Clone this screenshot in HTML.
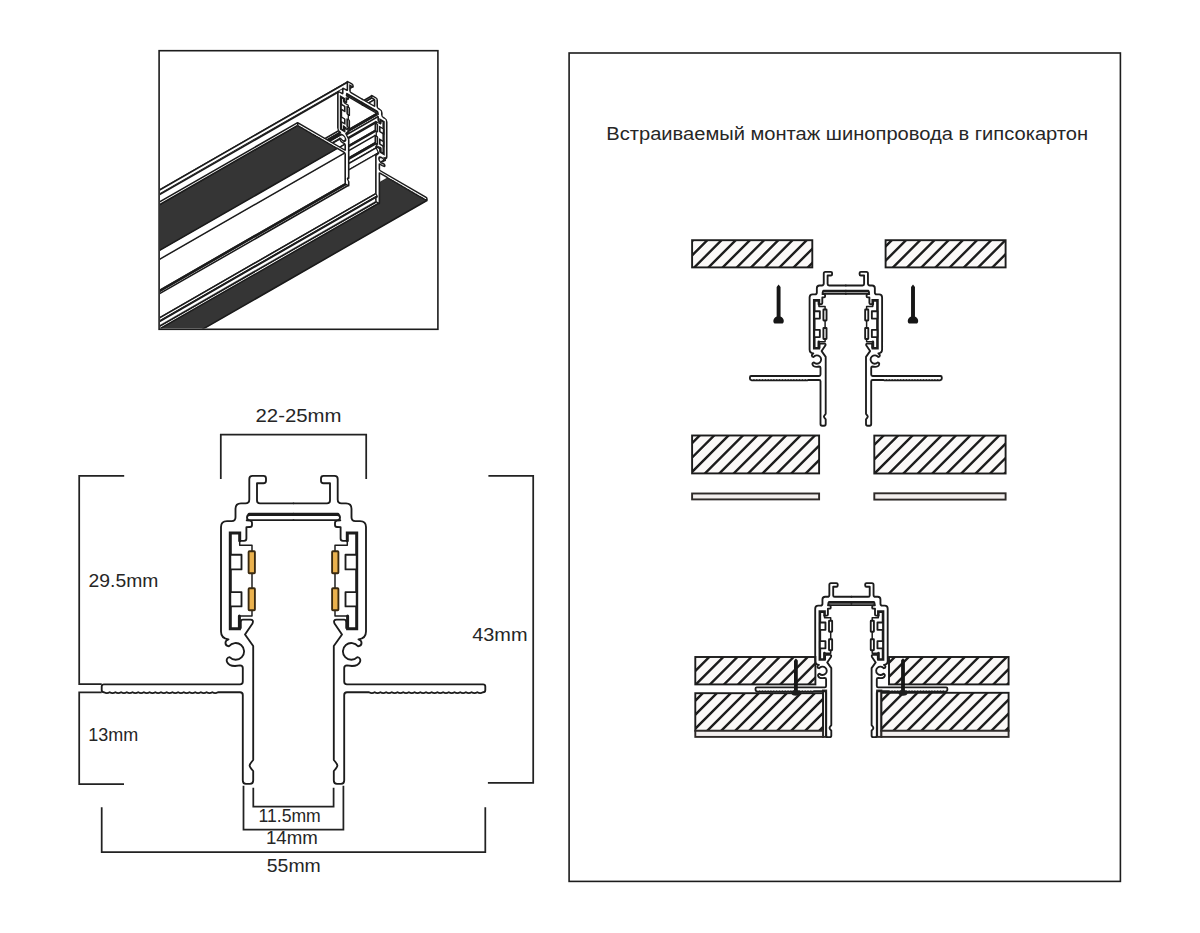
<!DOCTYPE html>
<html><head><meta charset="utf-8"><style>html,body{margin:0;padding:0;background:#fff;}svg{display:block}</style></head>
<body><svg width="1200" height="933" viewBox="0 0 1200 933">
<rect width="1200" height="933" fill="#fff"/>
<rect x="159.1" y="50.7" width="278.8" height="278.6" fill="none" stroke="#1c1c1c" stroke-width="1.6"/>
<rect x="569.1" y="53" width="551.3" height="828.4" fill="none" stroke="#1c1c1c" stroke-width="1.6"/>
<g fill="none" stroke="#1c1c1c" stroke-linecap="round" stroke-linejoin="round"><path d="M 293.5 503.3 L 260 503.3 Q 257 503.3 257 500.5 L 257 483.2 L 263.5 483.2 Q 266 483.2 266 480.7 L 266 478.4 Q 266 475.9 263.5 475.9 L 252.5 475.9 Q 249.3 475.9 249.3 479.1 L 249.3 499.5 Q 249.3 503.3 245.5 503.3 L 241 503.3 Q 235.5 503.3 235.5 508.8 L 235.5 517.3 Q 235.5 521.1 231.7 521.1 L 227 521.1 Q 221 521.1 221 527.1 L 221 631.5 C 221 636.5 223.5 638.8 228.5 639.3 C 224.5 640.5 224.2 645.8 229 646.3 A 8.4 8.4 0 1 1 229.6 657.2 C 224.5 657.8 226 666 235 666 L 240 665.3 Q 242.8 665.3 242.8 668 L 242.8 681.5 Q 242.8 684.3 240 684.3 L 104 684.3 Q 101.7 684.3 101.7 686.6 L 101.7 689.9 Q 101.7 692.2 104 692.2 Q 106.85 694.00 109.70 692.20 Q 112.55 694.00 115.40 692.20 Q 118.25 694.00 121.10 692.20 Q 123.95 694.00 126.80 692.20 Q 129.65 694.00 132.50 692.20 Q 135.35 694.00 138.20 692.20 Q 141.05 694.00 143.90 692.20 Q 146.75 694.00 149.60 692.20 Q 152.45 694.00 155.30 692.20 Q 158.15 694.00 161.00 692.20 Q 163.85 694.00 166.70 692.20 Q 169.55 694.00 172.40 692.20 Q 175.25 694.00 178.10 692.20 Q 180.95 694.00 183.80 692.20 Q 186.65 694.00 189.50 692.20 Q 192.35 694.00 195.20 692.20 Q 198.05 694.00 200.90 692.20 Q 203.75 694.00 206.60 692.20 Q 209.45 694.00 212.30 692.20 Q 215.15 694.00 218.00 692.20 L 219.50 692.20 L 240 692.2 Q 242.8 692.2 242.8 695 L 242.8 780.5 Q 242.8 783.8 246 783.8 L 250 783.8 Q 253.2 783.8 253.2 780.5 L 253.2 771 Q 249.6 767 249.6 765.5 Q 249.6 764 253.2 760 L 253.2 646 L 245 634.5 L 252.5 623.5 Q 254 619.6 250.5 619.6 L 243 619.6 Q 240.8 619.6 240.8 622 L 240.8 628" stroke-width="1.85"/>
<path d="M 246.7 520.3 L 250 520.6 Q 252 521 252 523 L 252 525 Q 252 527 250 527 L 246.4 527.2 L 246.4 538.5 Q 246.4 540.8 244 540.8 L 239.7 540.8" stroke-width="1.85"/>
<path d="M 293.5 515 L 249.5 515 Q 247 515 247 517.5 Q 247 520.1 249.5 520.1 L 293.5 520.1" stroke-width="1.85"/>
<path d="M 293.5 514.3 L 249 514.3" stroke-width="3.0"/>
<path d="M 239.7 540.8 L 239.7 533 L 230.3 533 L 230.3 628.7 L 239.4 628.7 L 239.4 616" stroke-width="3.0" stroke-linejoin="miter"/>
<path d="M 239.4 616 L 252 616 L 252 610.2 M 252 588.2 L 252 573.2 M 252 551.2 L 252 545.3 L 239.7 545.3 L 239.7 540.8" stroke-width="1.4800000000000002"/>
<rect x="230.3" y="554.7" width="11.2" height="14.7" fill="#fff" stroke-width="1.85"/>
<rect x="230.3" y="592.1" width="11.2" height="14.3" fill="#fff" stroke-width="1.85"/>
<rect x="248.6" y="551.2" width="6.3" height="22" rx="0.8" fill="#ebb24e" stroke="#3a2a10" stroke-width="1.85"/>
<rect x="248.6" y="588.2" width="6.3" height="22" rx="0.8" fill="#ebb24e" stroke="#3a2a10" stroke-width="1.85"/><g transform="translate(587,0) scale(-1,1)"><path d="M 293.5 503.3 L 260 503.3 Q 257 503.3 257 500.5 L 257 483.2 L 263.5 483.2 Q 266 483.2 266 480.7 L 266 478.4 Q 266 475.9 263.5 475.9 L 252.5 475.9 Q 249.3 475.9 249.3 479.1 L 249.3 499.5 Q 249.3 503.3 245.5 503.3 L 241 503.3 Q 235.5 503.3 235.5 508.8 L 235.5 517.3 Q 235.5 521.1 231.7 521.1 L 227 521.1 Q 221 521.1 221 527.1 L 221 631.5 C 221 636.5 223.5 638.8 228.5 639.3 C 224.5 640.5 224.2 645.8 229 646.3 A 8.4 8.4 0 1 1 229.6 657.2 C 224.5 657.8 226 666 235 666 L 240 665.3 Q 242.8 665.3 242.8 668 L 242.8 681.5 Q 242.8 684.3 240 684.3 L 104 684.3 Q 101.7 684.3 101.7 686.6 L 101.7 689.9 Q 101.7 692.2 104 692.2 Q 106.85 694.00 109.70 692.20 Q 112.55 694.00 115.40 692.20 Q 118.25 694.00 121.10 692.20 Q 123.95 694.00 126.80 692.20 Q 129.65 694.00 132.50 692.20 Q 135.35 694.00 138.20 692.20 Q 141.05 694.00 143.90 692.20 Q 146.75 694.00 149.60 692.20 Q 152.45 694.00 155.30 692.20 Q 158.15 694.00 161.00 692.20 Q 163.85 694.00 166.70 692.20 Q 169.55 694.00 172.40 692.20 Q 175.25 694.00 178.10 692.20 Q 180.95 694.00 183.80 692.20 Q 186.65 694.00 189.50 692.20 Q 192.35 694.00 195.20 692.20 Q 198.05 694.00 200.90 692.20 Q 203.75 694.00 206.60 692.20 Q 209.45 694.00 212.30 692.20 Q 215.15 694.00 218.00 692.20 L 219.50 692.20 L 240 692.2 Q 242.8 692.2 242.8 695 L 242.8 780.5 Q 242.8 783.8 246 783.8 L 250 783.8 Q 253.2 783.8 253.2 780.5 L 253.2 771 Q 249.6 767 249.6 765.5 Q 249.6 764 253.2 760 L 253.2 646 L 245 634.5 L 252.5 623.5 Q 254 619.6 250.5 619.6 L 243 619.6 Q 240.8 619.6 240.8 622 L 240.8 628" stroke-width="1.85"/>
<path d="M 246.7 520.3 L 250 520.6 Q 252 521 252 523 L 252 525 Q 252 527 250 527 L 246.4 527.2 L 246.4 538.5 Q 246.4 540.8 244 540.8 L 239.7 540.8" stroke-width="1.85"/>
<path d="M 293.5 515 L 249.5 515 Q 247 515 247 517.5 Q 247 520.1 249.5 520.1 L 293.5 520.1" stroke-width="1.85"/>
<path d="M 293.5 514.3 L 249 514.3" stroke-width="3.0"/>
<path d="M 239.7 540.8 L 239.7 533 L 230.3 533 L 230.3 628.7 L 239.4 628.7 L 239.4 616" stroke-width="3.0" stroke-linejoin="miter"/>
<path d="M 239.4 616 L 252 616 L 252 610.2 M 252 588.2 L 252 573.2 M 252 551.2 L 252 545.3 L 239.7 545.3 L 239.7 540.8" stroke-width="1.4800000000000002"/>
<rect x="230.3" y="554.7" width="11.2" height="14.7" fill="#fff" stroke-width="1.85"/>
<rect x="230.3" y="592.1" width="11.2" height="14.3" fill="#fff" stroke-width="1.85"/>
<rect x="248.6" y="551.2" width="6.3" height="22" rx="0.8" fill="#ebb24e" stroke="#3a2a10" stroke-width="1.85"/>
<rect x="248.6" y="588.2" width="6.3" height="22" rx="0.8" fill="#ebb24e" stroke="#3a2a10" stroke-width="1.85"/></g></g>
<g fill="none" stroke="#222" stroke-width="1.75"><path d="M 220.8 479 L 220.8 434.7 L 366.2 434.7 L 366.2 479"/><path d="M 124.2 475.8 L 79.2 475.8 L 79.2 684.2 L 101.7 684.2"/><path d="M 101.7 692.4 L 79.2 692.4 L 79.2 784.2 L 124 784.2"/><path d="M 488.4 475.9 L 533.2 475.9 L 533.2 782.9 L 487.9 782.9"/><path d="M 101.7 807.3 L 101.7 852 L 485.3 852 L 485.3 807.3"/><path d="M 243.5 785.8 L 243.5 829.6 L 343.4 829.6 L 343.4 785.8"/><path d="M 253.3 787.7 L 253.3 806.7 L 333.6 806.7 L 333.6 787.7"/></g>
<g font-family="Liberation Sans, sans-serif">
<text x="255.5" y="421.5" font-size="19" fill="#262626" text-anchor="start" textLength="86" lengthAdjust="spacingAndGlyphs">22-25mm</text>
<text x="88.6" y="586.8" font-size="19" fill="#262626" text-anchor="start" textLength="69.8" lengthAdjust="spacingAndGlyphs">29.5mm</text>
<text x="88.3" y="741.3" font-size="19" fill="#262626" text-anchor="start" textLength="50" lengthAdjust="spacingAndGlyphs">13mm</text>
<text x="472.2" y="640.7" font-size="19" fill="#262626" text-anchor="start" textLength="55.3" lengthAdjust="spacingAndGlyphs">43mm</text>
<text x="258.5" y="822.3" font-size="19" fill="#262626" text-anchor="start" textLength="62.3" lengthAdjust="spacingAndGlyphs">11.5mm</text>
<text x="266" y="844.4" font-size="19" fill="#262626" text-anchor="start" textLength="51.8" lengthAdjust="spacingAndGlyphs">14mm</text>
<text x="266.8" y="872.4" font-size="19" fill="#262626" text-anchor="start" textLength="54" lengthAdjust="spacingAndGlyphs">55mm</text>
<text x="606.3" y="140.3" font-size="17.5" fill="#262626" text-anchor="start" textLength="481.8" lengthAdjust="spacingAndGlyphs">Встраиваемый монтаж шинопровода в гипсокартон</text>
</g>
<clipPath id="b1"><rect x="692.1" y="240.2" width="120.19999999999993" height="27.19999999999999"/></clipPath>
<rect x="692.1" y="240.2" width="120.19999999999993" height="27.19999999999999" fill="#fbf9f8"/>
<path d="M 632.50 272.40 L 669.70 235.20 M 646.70 272.40 L 683.90 235.20 M 660.90 272.40 L 698.10 235.20 M 675.10 272.40 L 712.30 235.20 M 689.30 272.40 L 726.50 235.20 M 703.50 272.40 L 740.70 235.20 M 717.70 272.40 L 754.90 235.20 M 731.90 272.40 L 769.10 235.20 M 746.10 272.40 L 783.30 235.20 M 760.30 272.40 L 797.50 235.20 M 774.50 272.40 L 811.70 235.20 M 788.70 272.40 L 825.90 235.20 M 802.90 272.40 L 840.10 235.20 M 817.10 272.40 L 854.30 235.20 M 831.30 272.40 L 868.50 235.20" stroke="#1c1c1c" stroke-width="2.4" clip-path="url(#b1)"/>
<rect x="692.1" y="240.2" width="120.19999999999993" height="27.19999999999999" fill="none" stroke="#1c1c1c" stroke-width="1.9"/>
<clipPath id="b2"><rect x="885.6" y="240.2" width="120.0" height="27.19999999999999"/></clipPath>
<rect x="885.6" y="240.2" width="120.0" height="27.19999999999999" fill="#fbf9f8"/>
<path d="M 831.20 272.40 L 868.40 235.20 M 845.40 272.40 L 882.60 235.20 M 859.60 272.40 L 896.80 235.20 M 873.80 272.40 L 911.00 235.20 M 888.00 272.40 L 925.20 235.20 M 902.20 272.40 L 939.40 235.20 M 916.40 272.40 L 953.60 235.20 M 930.60 272.40 L 967.80 235.20 M 944.80 272.40 L 982.00 235.20 M 959.00 272.40 L 996.20 235.20 M 973.20 272.40 L 1010.40 235.20 M 987.40 272.40 L 1024.60 235.20 M 1001.60 272.40 L 1038.80 235.20 M 1015.80 272.40 L 1053.00 235.20" stroke="#1c1c1c" stroke-width="2.4" clip-path="url(#b2)"/>
<rect x="885.6" y="240.2" width="120.0" height="27.19999999999999" fill="none" stroke="#1c1c1c" stroke-width="1.9"/>
<clipPath id="b3"><rect x="692.1" y="435.5" width="127.0" height="37.89999999999998"/></clipPath>
<rect x="692.1" y="435.5" width="127.0" height="37.89999999999998" fill="#fbf9f8"/>
<path d="M 628.00 478.40 L 675.90 430.50 M 642.40 478.40 L 690.30 430.50 M 656.80 478.40 L 704.70 430.50 M 671.20 478.40 L 719.10 430.50 M 685.60 478.40 L 733.50 430.50 M 700.00 478.40 L 747.90 430.50 M 714.40 478.40 L 762.30 430.50 M 728.80 478.40 L 776.70 430.50 M 743.20 478.40 L 791.10 430.50 M 757.60 478.40 L 805.50 430.50 M 772.00 478.40 L 819.90 430.50 M 786.40 478.40 L 834.30 430.50 M 800.80 478.40 L 848.70 430.50 M 815.20 478.40 L 863.10 430.50 M 829.60 478.40 L 877.50 430.50" stroke="#1c1c1c" stroke-width="2.4" clip-path="url(#b3)"/>
<rect x="692.1" y="435.5" width="127.0" height="37.89999999999998" fill="none" stroke="#1c1c1c" stroke-width="1.9"/>
<clipPath id="b4"><rect x="874.3" y="435.6" width="131.30000000000007" height="37.89999999999998"/></clipPath>
<rect x="874.3" y="435.6" width="131.30000000000007" height="37.89999999999998" fill="#fbf9f8"/>
<path d="M 811.75 478.50 L 859.65 430.60 M 826.20 478.50 L 874.10 430.60 M 840.65 478.50 L 888.55 430.60 M 855.10 478.50 L 903.00 430.60 M 869.55 478.50 L 917.45 430.60 M 884.00 478.50 L 931.90 430.60 M 898.45 478.50 L 946.35 430.60 M 912.90 478.50 L 960.80 430.60 M 927.35 478.50 L 975.25 430.60 M 941.80 478.50 L 989.70 430.60 M 956.25 478.50 L 1004.15 430.60 M 970.70 478.50 L 1018.60 430.60 M 985.15 478.50 L 1033.05 430.60 M 999.60 478.50 L 1047.50 430.60 M 1014.05 478.50 L 1061.95 430.60 M 1028.50 478.50 L 1076.40 430.60" stroke="#1c1c1c" stroke-width="2.4" clip-path="url(#b4)"/>
<rect x="874.3" y="435.6" width="131.30000000000007" height="37.89999999999998" fill="none" stroke="#1c1c1c" stroke-width="1.9"/>
<rect x="692.1" y="493.5" width="127.0" height="5.899999999999977" fill="#f3efee" stroke="#2e2a28" stroke-width="1.9"/>
<rect x="874.3" y="493.3" width="131.30000000000007" height="6.300000000000011" fill="#f3efee" stroke="#2e2a28" stroke-width="1.9"/>
<path d="M 776.65 287.1 L 778.6 284.6 L 780.5500000000001 287.1 L 780.5500000000001 316.4 C 784.6 318.4 784.4 322.4 782.6 323.4 L 774.6 323.4 C 772.8000000000001 322.4 772.6 318.4 776.65 316.4 Z" fill="#161616"/>
<path d="M 911.05 287.1 L 913 284.6 L 914.95 287.1 L 914.95 316.4 C 919.0 318.4 918.8 322.4 917.0 323.4 L 909.0 323.4 C 907.2 322.4 907.0 318.4 911.05 316.4 Z" fill="#161616"/>
<g transform="translate(845.85,376) scale(0.5) translate(-293.5,-684.3)"><g fill="none" stroke="#1c1c1c" stroke-linecap="round" stroke-linejoin="round"><path d="M 293.5 503.3 L 260 503.3 Q 257 503.3 257 500.5 L 257 483.2 L 263.5 483.2 Q 266 483.2 266 480.7 L 266 478.4 Q 266 475.9 263.5 475.9 L 252.5 475.9 Q 249.3 475.9 249.3 479.1 L 249.3 499.5 Q 249.3 503.3 245.5 503.3 L 241 503.3 Q 235.5 503.3 235.5 508.8 L 235.5 517.3 Q 235.5 521.1 231.7 521.1 L 227 521.1 Q 221 521.1 221 527.1 L 221 631.5 C 221 636.5 223.5 638.8 228.5 639.3 C 224.5 640.5 224.2 645.8 229 646.3 A 8.4 8.4 0 1 1 229.6 657.2 C 224.5 657.8 226 666 235 666 L 240 665.3 Q 242.8 665.3 242.8 668 L 242.8 681.5 Q 242.8 684.3 240 684.3 L 104 684.3 Q 101.7 684.3 101.7 686.6 L 101.7 689.9 Q 101.7 692.2 104 692.2 Q 106.85 694.00 109.70 692.20 Q 112.55 694.00 115.40 692.20 Q 118.25 694.00 121.10 692.20 Q 123.95 694.00 126.80 692.20 Q 129.65 694.00 132.50 692.20 Q 135.35 694.00 138.20 692.20 Q 141.05 694.00 143.90 692.20 Q 146.75 694.00 149.60 692.20 Q 152.45 694.00 155.30 692.20 Q 158.15 694.00 161.00 692.20 Q 163.85 694.00 166.70 692.20 Q 169.55 694.00 172.40 692.20 Q 175.25 694.00 178.10 692.20 Q 180.95 694.00 183.80 692.20 Q 186.65 694.00 189.50 692.20 Q 192.35 694.00 195.20 692.20 Q 198.05 694.00 200.90 692.20 Q 203.75 694.00 206.60 692.20 Q 209.45 694.00 212.30 692.20 Q 215.15 694.00 218.00 692.20 L 219.50 692.20 L 240 692.2 Q 242.8 692.2 242.8 695 L 242.8 780.5 Q 242.8 783.8 246 783.8 L 250 783.8 Q 253.2 783.8 253.2 780.5 L 253.2 771 Q 249.6 767 249.6 765.5 Q 249.6 764 253.2 760 L 253.2 646 L 245 634.5 L 252.5 623.5 Q 254 619.6 250.5 619.6 L 243 619.6 Q 240.8 619.6 240.8 622 L 240.8 628" stroke-width="3.7"/>
<path d="M 246.7 520.3 L 250 520.6 Q 252 521 252 523 L 252 525 Q 252 527 250 527 L 246.4 527.2 L 246.4 538.5 Q 246.4 540.8 244 540.8 L 239.7 540.8" stroke-width="3.7"/>
<path d="M 293.5 515 L 249.5 515 Q 247 515 247 517.5 Q 247 520.1 249.5 520.1 L 293.5 520.1" stroke-width="3.7"/>
<path d="M 293.5 514.3 L 249 514.3" stroke-width="5.2"/>
<path d="M 239.7 540.8 L 239.7 533 L 230.3 533 L 230.3 628.7 L 239.4 628.7 L 239.4 616" stroke-width="5.2" stroke-linejoin="miter"/>
<path d="M 239.4 616 L 252 616 L 252 610.2 M 252 588.2 L 252 573.2 M 252 551.2 L 252 545.3 L 239.7 545.3 L 239.7 540.8" stroke-width="2.9600000000000004"/>
<rect x="230.3" y="554.7" width="11.2" height="14.7" fill="#fff" stroke-width="3.7"/>
<rect x="230.3" y="592.1" width="11.2" height="14.3" fill="#fff" stroke-width="3.7"/>
<rect x="248.6" y="551.2" width="6.3" height="22" rx="0.8" fill="#fff" stroke="#1c1c1c" stroke-width="3.7"/>
<rect x="248.6" y="588.2" width="6.3" height="22" rx="0.8" fill="#fff" stroke="#1c1c1c" stroke-width="3.7"/><g transform="translate(587,0) scale(-1,1)"><path d="M 293.5 503.3 L 260 503.3 Q 257 503.3 257 500.5 L 257 483.2 L 263.5 483.2 Q 266 483.2 266 480.7 L 266 478.4 Q 266 475.9 263.5 475.9 L 252.5 475.9 Q 249.3 475.9 249.3 479.1 L 249.3 499.5 Q 249.3 503.3 245.5 503.3 L 241 503.3 Q 235.5 503.3 235.5 508.8 L 235.5 517.3 Q 235.5 521.1 231.7 521.1 L 227 521.1 Q 221 521.1 221 527.1 L 221 631.5 C 221 636.5 223.5 638.8 228.5 639.3 C 224.5 640.5 224.2 645.8 229 646.3 A 8.4 8.4 0 1 1 229.6 657.2 C 224.5 657.8 226 666 235 666 L 240 665.3 Q 242.8 665.3 242.8 668 L 242.8 681.5 Q 242.8 684.3 240 684.3 L 104 684.3 Q 101.7 684.3 101.7 686.6 L 101.7 689.9 Q 101.7 692.2 104 692.2 Q 106.85 694.00 109.70 692.20 Q 112.55 694.00 115.40 692.20 Q 118.25 694.00 121.10 692.20 Q 123.95 694.00 126.80 692.20 Q 129.65 694.00 132.50 692.20 Q 135.35 694.00 138.20 692.20 Q 141.05 694.00 143.90 692.20 Q 146.75 694.00 149.60 692.20 Q 152.45 694.00 155.30 692.20 Q 158.15 694.00 161.00 692.20 Q 163.85 694.00 166.70 692.20 Q 169.55 694.00 172.40 692.20 Q 175.25 694.00 178.10 692.20 Q 180.95 694.00 183.80 692.20 Q 186.65 694.00 189.50 692.20 Q 192.35 694.00 195.20 692.20 Q 198.05 694.00 200.90 692.20 Q 203.75 694.00 206.60 692.20 Q 209.45 694.00 212.30 692.20 Q 215.15 694.00 218.00 692.20 L 219.50 692.20 L 240 692.2 Q 242.8 692.2 242.8 695 L 242.8 780.5 Q 242.8 783.8 246 783.8 L 250 783.8 Q 253.2 783.8 253.2 780.5 L 253.2 771 Q 249.6 767 249.6 765.5 Q 249.6 764 253.2 760 L 253.2 646 L 245 634.5 L 252.5 623.5 Q 254 619.6 250.5 619.6 L 243 619.6 Q 240.8 619.6 240.8 622 L 240.8 628" stroke-width="3.7"/>
<path d="M 246.7 520.3 L 250 520.6 Q 252 521 252 523 L 252 525 Q 252 527 250 527 L 246.4 527.2 L 246.4 538.5 Q 246.4 540.8 244 540.8 L 239.7 540.8" stroke-width="3.7"/>
<path d="M 293.5 515 L 249.5 515 Q 247 515 247 517.5 Q 247 520.1 249.5 520.1 L 293.5 520.1" stroke-width="3.7"/>
<path d="M 293.5 514.3 L 249 514.3" stroke-width="5.2"/>
<path d="M 239.7 540.8 L 239.7 533 L 230.3 533 L 230.3 628.7 L 239.4 628.7 L 239.4 616" stroke-width="5.2" stroke-linejoin="miter"/>
<path d="M 239.4 616 L 252 616 L 252 610.2 M 252 588.2 L 252 573.2 M 252 551.2 L 252 545.3 L 239.7 545.3 L 239.7 540.8" stroke-width="2.9600000000000004"/>
<rect x="230.3" y="554.7" width="11.2" height="14.7" fill="#fff" stroke-width="3.7"/>
<rect x="230.3" y="592.1" width="11.2" height="14.3" fill="#fff" stroke-width="3.7"/>
<rect x="248.6" y="551.2" width="6.3" height="22" rx="0.8" fill="#fff" stroke="#1c1c1c" stroke-width="3.7"/>
<rect x="248.6" y="588.2" width="6.3" height="22" rx="0.8" fill="#fff" stroke="#1c1c1c" stroke-width="3.7"/></g></g></g>
<clipPath id="b5"><rect x="695.3" y="657" width="120.10000000000002" height="27.399999999999977"/></clipPath>
<rect x="695.3" y="657" width="120.10000000000002" height="27.399999999999977" fill="#fbf9f8"/>
<path d="M 648.71 689.40 L 686.11 652.00 M 662.78 689.40 L 700.18 652.00 M 676.85 689.40 L 714.25 652.00 M 690.92 689.40 L 728.32 652.00 M 704.99 689.40 L 742.39 652.00 M 719.06 689.40 L 756.46 652.00 M 733.13 689.40 L 770.53 652.00 M 747.20 689.40 L 784.60 652.00 M 761.27 689.40 L 798.67 652.00 M 775.34 689.40 L 812.74 652.00 M 789.41 689.40 L 826.81 652.00 M 803.48 689.40 L 840.88 652.00 M 817.55 689.40 L 854.95 652.00 M 831.62 689.40 L 869.02 652.00" stroke="#1c1c1c" stroke-width="2.4" clip-path="url(#b5)"/>
<rect x="695.3" y="657" width="120.10000000000002" height="27.399999999999977" fill="none" stroke="#1c1c1c" stroke-width="1.9"/>
<clipPath id="b6"><rect x="889" y="657" width="119.60000000000002" height="27.399999999999977"/></clipPath>
<rect x="889" y="657" width="119.60000000000002" height="27.399999999999977" fill="#fbf9f8"/>
<path d="M 834.40 689.40 L 871.80 652.00 M 848.40 689.40 L 885.80 652.00 M 862.40 689.40 L 899.80 652.00 M 876.40 689.40 L 913.80 652.00 M 890.40 689.40 L 927.80 652.00 M 904.40 689.40 L 941.80 652.00 M 918.40 689.40 L 955.80 652.00 M 932.40 689.40 L 969.80 652.00 M 946.40 689.40 L 983.80 652.00 M 960.40 689.40 L 997.80 652.00 M 974.40 689.40 L 1011.80 652.00 M 988.40 689.40 L 1025.80 652.00 M 1002.40 689.40 L 1039.80 652.00 M 1016.40 689.40 L 1053.80 652.00 M 1030.40 689.40 L 1067.80 652.00" stroke="#1c1c1c" stroke-width="2.4" clip-path="url(#b6)"/>
<rect x="889" y="657" width="119.60000000000002" height="27.399999999999977" fill="none" stroke="#1c1c1c" stroke-width="1.9"/>
<rect x="823" y="690.5" width="3.2000000000000455" height="46.39999999999998" fill="#f3efee" stroke="#2e2a28" stroke-width="1.9"/>
<rect x="877.1" y="690.5" width="4.2999999999999545" height="46.39999999999998" fill="#f3efee" stroke="#2e2a28" stroke-width="1.9"/>
<clipPath id="b7"><rect x="695.3" y="693.2" width="127.70000000000005" height="37.59999999999991"/></clipPath>
<rect x="695.3" y="693.2" width="127.70000000000005" height="37.59999999999991" fill="#fbf9f8"/>
<path d="M 632.20 735.80 L 679.80 688.20 M 646.20 735.80 L 693.80 688.20 M 660.20 735.80 L 707.80 688.20 M 674.20 735.80 L 721.80 688.20 M 688.20 735.80 L 735.80 688.20 M 702.20 735.80 L 749.80 688.20 M 716.20 735.80 L 763.80 688.20 M 730.20 735.80 L 777.80 688.20 M 744.20 735.80 L 791.80 688.20 M 758.20 735.80 L 805.80 688.20 M 772.20 735.80 L 819.80 688.20 M 786.20 735.80 L 833.80 688.20 M 800.20 735.80 L 847.80 688.20 M 814.20 735.80 L 861.80 688.20 M 828.20 735.80 L 875.80 688.20 M 842.20 735.80 L 889.80 688.20" stroke="#1c1c1c" stroke-width="2.4" clip-path="url(#b7)"/>
<rect x="695.3" y="693.2" width="127.70000000000005" height="37.59999999999991" fill="none" stroke="#1c1c1c" stroke-width="1.9"/>
<clipPath id="b8"><rect x="881.4" y="692.8" width="127.20000000000005" height="38.0"/></clipPath>
<rect x="881.4" y="692.8" width="127.20000000000005" height="38.0" fill="#fbf9f8"/>
<path d="M 818.40 735.80 L 866.40 687.80 M 832.40 735.80 L 880.40 687.80 M 846.40 735.80 L 894.40 687.80 M 860.40 735.80 L 908.40 687.80 M 874.40 735.80 L 922.40 687.80 M 888.40 735.80 L 936.40 687.80 M 902.40 735.80 L 950.40 687.80 M 916.40 735.80 L 964.40 687.80 M 930.40 735.80 L 978.40 687.80 M 944.40 735.80 L 992.40 687.80 M 958.40 735.80 L 1006.40 687.80 M 972.40 735.80 L 1020.40 687.80 M 986.40 735.80 L 1034.40 687.80 M 1000.40 735.80 L 1048.40 687.80 M 1014.40 735.80 L 1062.40 687.80 M 1028.40 735.80 L 1076.40 687.80" stroke="#1c1c1c" stroke-width="2.4" clip-path="url(#b8)"/>
<rect x="881.4" y="692.8" width="127.20000000000005" height="38.0" fill="none" stroke="#1c1c1c" stroke-width="1.9"/>
<rect x="695.3" y="730.8" width="127.70000000000005" height="6.100000000000023" fill="#f3efee" stroke="#2e2a28" stroke-width="1.9"/>
<rect x="881.4" y="730.8" width="127.20000000000005" height="6.100000000000023" fill="#f3efee" stroke="#2e2a28" stroke-width="1.9"/>
<g transform="translate(851.45,687.3) scale(0.5) translate(-293.5,-684.3)"><g fill="none" stroke="#1c1c1c" stroke-linecap="round" stroke-linejoin="round"><path d="M 293.5 503.3 L 260 503.3 Q 257 503.3 257 500.5 L 257 483.2 L 263.5 483.2 Q 266 483.2 266 480.7 L 266 478.4 Q 266 475.9 263.5 475.9 L 252.5 475.9 Q 249.3 475.9 249.3 479.1 L 249.3 499.5 Q 249.3 503.3 245.5 503.3 L 241 503.3 Q 235.5 503.3 235.5 508.8 L 235.5 517.3 Q 235.5 521.1 231.7 521.1 L 227 521.1 Q 221 521.1 221 527.1 L 221 631.5 C 221 636.5 223.5 638.8 228.5 639.3 C 224.5 640.5 224.2 645.8 229 646.3 A 8.4 8.4 0 1 1 229.6 657.2 C 224.5 657.8 226 666 235 666 L 240 665.3 Q 242.8 665.3 242.8 668 L 242.8 681.5 Q 242.8 684.3 240 684.3 L 104 684.3 Q 101.7 684.3 101.7 686.6 L 101.7 689.9 Q 101.7 692.2 104 692.2 Q 106.85 694.00 109.70 692.20 Q 112.55 694.00 115.40 692.20 Q 118.25 694.00 121.10 692.20 Q 123.95 694.00 126.80 692.20 Q 129.65 694.00 132.50 692.20 Q 135.35 694.00 138.20 692.20 Q 141.05 694.00 143.90 692.20 Q 146.75 694.00 149.60 692.20 Q 152.45 694.00 155.30 692.20 Q 158.15 694.00 161.00 692.20 Q 163.85 694.00 166.70 692.20 Q 169.55 694.00 172.40 692.20 Q 175.25 694.00 178.10 692.20 Q 180.95 694.00 183.80 692.20 Q 186.65 694.00 189.50 692.20 Q 192.35 694.00 195.20 692.20 Q 198.05 694.00 200.90 692.20 Q 203.75 694.00 206.60 692.20 Q 209.45 694.00 212.30 692.20 Q 215.15 694.00 218.00 692.20 L 219.50 692.20 L 240 692.2 Q 242.8 692.2 242.8 695 L 242.8 780.5 Q 242.8 783.8 246 783.8 L 250 783.8 Q 253.2 783.8 253.2 780.5 L 253.2 771 Q 249.6 767 249.6 765.5 Q 249.6 764 253.2 760 L 253.2 646 L 245 634.5 L 252.5 623.5 Q 254 619.6 250.5 619.6 L 243 619.6 Q 240.8 619.6 240.8 622 L 240.8 628" stroke-width="3.7"/>
<path d="M 246.7 520.3 L 250 520.6 Q 252 521 252 523 L 252 525 Q 252 527 250 527 L 246.4 527.2 L 246.4 538.5 Q 246.4 540.8 244 540.8 L 239.7 540.8" stroke-width="3.7"/>
<path d="M 293.5 515 L 249.5 515 Q 247 515 247 517.5 Q 247 520.1 249.5 520.1 L 293.5 520.1" stroke-width="3.7"/>
<path d="M 293.5 514.3 L 249 514.3" stroke-width="5.2"/>
<path d="M 239.7 540.8 L 239.7 533 L 230.3 533 L 230.3 628.7 L 239.4 628.7 L 239.4 616" stroke-width="5.2" stroke-linejoin="miter"/>
<path d="M 239.4 616 L 252 616 L 252 610.2 M 252 588.2 L 252 573.2 M 252 551.2 L 252 545.3 L 239.7 545.3 L 239.7 540.8" stroke-width="2.9600000000000004"/>
<rect x="230.3" y="554.7" width="11.2" height="14.7" fill="#fff" stroke-width="3.7"/>
<rect x="230.3" y="592.1" width="11.2" height="14.3" fill="#fff" stroke-width="3.7"/>
<rect x="248.6" y="551.2" width="6.3" height="22" rx="0.8" fill="#fff" stroke="#1c1c1c" stroke-width="3.7"/>
<rect x="248.6" y="588.2" width="6.3" height="22" rx="0.8" fill="#fff" stroke="#1c1c1c" stroke-width="3.7"/><g transform="translate(587,0) scale(-1,1)"><path d="M 293.5 503.3 L 260 503.3 Q 257 503.3 257 500.5 L 257 483.2 L 263.5 483.2 Q 266 483.2 266 480.7 L 266 478.4 Q 266 475.9 263.5 475.9 L 252.5 475.9 Q 249.3 475.9 249.3 479.1 L 249.3 499.5 Q 249.3 503.3 245.5 503.3 L 241 503.3 Q 235.5 503.3 235.5 508.8 L 235.5 517.3 Q 235.5 521.1 231.7 521.1 L 227 521.1 Q 221 521.1 221 527.1 L 221 631.5 C 221 636.5 223.5 638.8 228.5 639.3 C 224.5 640.5 224.2 645.8 229 646.3 A 8.4 8.4 0 1 1 229.6 657.2 C 224.5 657.8 226 666 235 666 L 240 665.3 Q 242.8 665.3 242.8 668 L 242.8 681.5 Q 242.8 684.3 240 684.3 L 104 684.3 Q 101.7 684.3 101.7 686.6 L 101.7 689.9 Q 101.7 692.2 104 692.2 Q 106.85 694.00 109.70 692.20 Q 112.55 694.00 115.40 692.20 Q 118.25 694.00 121.10 692.20 Q 123.95 694.00 126.80 692.20 Q 129.65 694.00 132.50 692.20 Q 135.35 694.00 138.20 692.20 Q 141.05 694.00 143.90 692.20 Q 146.75 694.00 149.60 692.20 Q 152.45 694.00 155.30 692.20 Q 158.15 694.00 161.00 692.20 Q 163.85 694.00 166.70 692.20 Q 169.55 694.00 172.40 692.20 Q 175.25 694.00 178.10 692.20 Q 180.95 694.00 183.80 692.20 Q 186.65 694.00 189.50 692.20 Q 192.35 694.00 195.20 692.20 Q 198.05 694.00 200.90 692.20 Q 203.75 694.00 206.60 692.20 Q 209.45 694.00 212.30 692.20 Q 215.15 694.00 218.00 692.20 L 219.50 692.20 L 240 692.2 Q 242.8 692.2 242.8 695 L 242.8 780.5 Q 242.8 783.8 246 783.8 L 250 783.8 Q 253.2 783.8 253.2 780.5 L 253.2 771 Q 249.6 767 249.6 765.5 Q 249.6 764 253.2 760 L 253.2 646 L 245 634.5 L 252.5 623.5 Q 254 619.6 250.5 619.6 L 243 619.6 Q 240.8 619.6 240.8 622 L 240.8 628" stroke-width="3.7"/>
<path d="M 246.7 520.3 L 250 520.6 Q 252 521 252 523 L 252 525 Q 252 527 250 527 L 246.4 527.2 L 246.4 538.5 Q 246.4 540.8 244 540.8 L 239.7 540.8" stroke-width="3.7"/>
<path d="M 293.5 515 L 249.5 515 Q 247 515 247 517.5 Q 247 520.1 249.5 520.1 L 293.5 520.1" stroke-width="3.7"/>
<path d="M 293.5 514.3 L 249 514.3" stroke-width="5.2"/>
<path d="M 239.7 540.8 L 239.7 533 L 230.3 533 L 230.3 628.7 L 239.4 628.7 L 239.4 616" stroke-width="5.2" stroke-linejoin="miter"/>
<path d="M 239.4 616 L 252 616 L 252 610.2 M 252 588.2 L 252 573.2 M 252 551.2 L 252 545.3 L 239.7 545.3 L 239.7 540.8" stroke-width="2.9600000000000004"/>
<rect x="230.3" y="554.7" width="11.2" height="14.7" fill="#fff" stroke-width="3.7"/>
<rect x="230.3" y="592.1" width="11.2" height="14.3" fill="#fff" stroke-width="3.7"/>
<rect x="248.6" y="551.2" width="6.3" height="22" rx="0.8" fill="#fff" stroke="#1c1c1c" stroke-width="3.7"/>
<rect x="248.6" y="588.2" width="6.3" height="22" rx="0.8" fill="#fff" stroke="#1c1c1c" stroke-width="3.7"/></g></g></g>
<path d="M 794.0 660.5 L 795.9 658.5 L 797.8 660.5 L 797.8 692.5 L 794.0 692.5 Z" fill="#161616"/><ellipse cx="795.9" cy="692.8" rx="4.6" ry="2.852" fill="#1e1e1e"/>
<path d="M 901.1 660.2 L 903 658.2 L 904.9 660.2 L 904.9 692.5 L 901.1 692.5 Z" fill="#161616"/><ellipse cx="903" cy="692.8" rx="4.6" ry="2.852" fill="#1e1e1e"/>
<clipPath id="isoclip"><rect x="160" y="51.5" width="277" height="277"/></clipPath>
<g clip-path="url(#isoclip)" stroke-linejoin="round">
<path d="M371.84 97.87L374.59 99.62L-325.41 501.42L-328.16 499.67Z" fill="#fff" stroke="#fff" stroke-width="0.3"/>
<path d="M371.84 97.87l-700 401.80M374.59 99.62l-700 401.80" stroke="#1a1a1a" stroke-width="1.55" fill="none"/>
<path d="M371.59 95.96L371.84 97.87L-328.16 499.67L-328.41 497.76Z" fill="#fff" stroke="#fff" stroke-width="0.3"/>
<path d="M371.59 95.96l-700 401.80M371.84 97.87l-700 401.80" stroke="#1a1a1a" stroke-width="1.55" fill="none"/>
<path d="M374.59 99.62L374.59 105.52L-325.41 507.32L-325.41 501.42Z" fill="#fff" stroke="#fff" stroke-width="0.3"/>
<path d="M374.59 99.62l-700 401.80" stroke="#1a1a1a" stroke-width="1.55" fill="none"/>
<path d="M374.59 105.52L374.23 106.03L-325.77 507.83L-325.41 507.32Z" fill="#fff" stroke="#fff" stroke-width="0.3"/>
<path d="M374.23 106.03l-700 401.80" stroke="#1a1a1a" stroke-width="1.55" fill="none"/>
<path d="M376.33 115.05L378.16 116.58L-321.84 518.38L-323.67 516.85Z" fill="#fff" stroke="#fff" stroke-width="0.3"/>
<path d="M376.33 115.05l-700 401.80M378.16 116.58l-700 401.80" stroke="#1a1a1a" stroke-width="1.55" fill="none"/>
<path d="M378.16 116.58L378.14 122.61L-321.86 524.41L-321.84 518.38Z" fill="#fff" stroke="#fff" stroke-width="0.3"/>
<path d="M378.16 116.58l-700 401.80M378.14 122.61l-700 401.80" stroke="#1a1a1a" stroke-width="1.55" fill="none"/>
<path d="M349.99 85.31L352.74 86.76L-347.26 488.56L-350.01 487.11Z" fill="#fff" stroke="#fff" stroke-width="0.3"/>
<path d="M349.99 85.31l-700 401.80M352.74 86.76l-700 401.80" stroke="#1a1a1a" stroke-width="1.55" fill="none"/>
<path d="M376.29 121.53L376.25 123.50L-323.75 525.30L-323.71 523.33Z" fill="#fff" stroke="#fff" stroke-width="0.3"/>
<path d="M376.29 121.53l-700 401.80M376.25 123.50l-700 401.80" stroke="#1a1a1a" stroke-width="1.55" fill="none"/>
<path d="M348.03 81.77L347.41 82.22L-352.59 484.02L-351.97 483.57Z" fill="#fff" stroke="#fff" stroke-width="0.3"/>
<path d="M348.03 81.77l-700 401.80M347.41 82.22l-700 401.80" stroke="#1a1a1a" stroke-width="1.55" fill="none"/>
<path d="M347.49 96.29L377.09 113.51L-322.91 515.31L-352.51 498.09Z" fill="#fff" stroke="#fff" stroke-width="0.3"/>
<path d="M347.49 96.29l-700 401.80M377.09 113.51l-700 401.80" stroke="#1a1a1a" stroke-width="1.55" fill="none"/>
<path d="M376.33 113.71L376.33 115.05L-323.67 516.85L-323.67 515.51Z" fill="#fff" stroke="#fff" stroke-width="0.3"/>
<path d="M376.33 113.71l-700 401.80M376.33 115.05l-700 401.80" stroke="#1a1a1a" stroke-width="1.55" fill="none"/>
<path d="M375.30 123.00L375.30 130.33L-324.70 532.13L-324.70 524.80Z" fill="#fff" stroke="#fff" stroke-width="0.3"/>
<path d="M375.30 123.00l-700 401.80M375.30 130.33l-700 401.80" stroke="#1a1a1a" stroke-width="1.55" fill="none"/>
<path d="M347.41 82.22L347.20 89.98L-352.80 491.78L-352.59 484.02Z" fill="#fff" stroke="#fff" stroke-width="0.3"/>
<path d="M347.41 82.22l-700 401.80M347.20 89.98l-700 401.80" stroke="#1a1a1a" stroke-width="1.55" fill="none"/>
<path d="M375.30 130.33L376.27 130.93L-323.73 532.73L-324.70 532.13Z" fill="#fff" stroke="#fff" stroke-width="0.3"/>
<path d="M375.30 130.33l-700 401.80M376.27 130.93l-700 401.80" stroke="#1a1a1a" stroke-width="1.55" fill="none"/>
<path d="M376.27 130.93L376.27 135.98L-323.73 537.78L-323.73 532.73Z" fill="#fff" stroke="#fff" stroke-width="0.3"/>
<path d="M376.27 130.93l-700 401.80M376.27 135.98l-700 401.80" stroke="#1a1a1a" stroke-width="1.55" fill="none"/>
<path d="M343.31 88.57L342.78 89.28L-357.22 491.08L-356.69 490.37Z" fill="#fff" stroke="#fff" stroke-width="0.3"/>
<path d="M343.31 88.57l-700 401.80" stroke="#1a1a1a" stroke-width="1.55" fill="none"/>
<path d="M342.78 89.28L342.52 93.30L-357.48 495.10L-357.22 491.08Z" fill="#fff" stroke="#fff" stroke-width="0.3"/>
<path d="M342.52 93.30l-700 401.80" stroke="#1a1a1a" stroke-width="1.55" fill="none"/>
<path d="M375.30 135.45L375.30 142.78L-324.70 544.58L-324.70 537.25Z" fill="#fff" stroke="#fff" stroke-width="0.3"/>
<path d="M375.30 135.45l-700 401.80M375.30 142.78l-700 401.80" stroke="#1a1a1a" stroke-width="1.55" fill="none"/>
<path d="M346.42 98.11L347.96 98.84L-352.04 500.64L-353.58 499.91Z" fill="#fff" stroke="#fff" stroke-width="0.3"/>
<path d="M346.42 98.11l-700 401.80M347.96 98.84l-700 401.80" stroke="#1a1a1a" stroke-width="1.55" fill="none"/>
<path d="M375.30 142.78L376.27 143.47L-323.73 545.27L-324.70 544.58Z" fill="#fff" stroke="#fff" stroke-width="0.3"/>
<path d="M375.30 142.78l-700 401.80M376.27 143.47l-700 401.80" stroke="#1a1a1a" stroke-width="1.55" fill="none"/>
<path d="M387.23 177.40L426.92 200.49L-273.08 602.29L-312.77 579.20Z" fill="#353535" stroke="#353535" stroke-width="0.3"/>
<path d="M387.23 177.40l-700 401.80M426.92 200.49l-700 401.80" stroke="#1a1a1a" stroke-width="1.55" fill="none"/>
<path d="M384.23 157.82L385.95 158.21L-314.05 560.01L-315.77 559.62Z" fill="#fff" stroke="#fff" stroke-width="0.3"/>
<path d="M384.23 157.82l-700 401.80M385.95 158.21l-700 401.80" stroke="#1a1a1a" stroke-width="1.55" fill="none"/>
<path d="M376.27 143.47L376.13 147.84L-323.87 549.64L-323.73 545.27Z" fill="#fff" stroke="#fff" stroke-width="0.3"/>
<path d="M376.27 143.47l-700 401.80M376.13 147.84l-700 401.80" stroke="#1a1a1a" stroke-width="1.55" fill="none"/>
<path d="M384.05 160.08L384.83 160.24L-315.17 562.04L-315.95 561.88Z" fill="#fff" stroke="#fff" stroke-width="0.3"/>
<path d="M384.05 160.08l-700 401.80M384.83 160.24l-700 401.80" stroke="#1a1a1a" stroke-width="1.55" fill="none"/>
<path d="M376.13 147.84L378.62 152.97L-321.38 554.77L-323.87 549.64Z" fill="#fff" stroke="#fff" stroke-width="0.3"/>
<path d="M376.13 147.84l-700 401.80M378.62 152.97l-700 401.80" stroke="#1a1a1a" stroke-width="1.55" fill="none"/>
<path d="M382.93 158.73L384.05 160.08L-315.95 561.88L-317.07 560.53Z" fill="#fff" stroke="#fff" stroke-width="0.3"/>
<path d="M384.05 160.08l-700 401.80" stroke="#1a1a1a" stroke-width="1.55" fill="none"/>
<path d="M381.59 157.89L382.93 158.73L-317.07 560.53L-318.41 559.69Z" fill="#fff" stroke="#fff" stroke-width="0.3"/>
<path d="M380.54 157.79L381.59 157.89L-318.41 559.69L-319.46 559.59Z" fill="#fff" stroke="#fff" stroke-width="0.3"/>
<path d="M378.62 152.97L375.87 155.30L-324.13 557.10L-321.38 554.77Z" fill="#fff" stroke="#fff" stroke-width="0.3"/>
<path d="M378.62 152.97l-700 401.80" stroke="#1a1a1a" stroke-width="1.55" fill="none"/>
<path d="M348.30 114.66L349.28 115.20L-350.72 517.00L-351.70 516.46Z" fill="#fff" stroke="#fff" stroke-width="0.3"/>
<path d="M348.30 114.66l-700 401.80M349.28 115.20l-700 401.80" stroke="#1a1a1a" stroke-width="1.55" fill="none"/>
<path d="M383.40 166.11L384.37 166.02L-315.63 567.82L-316.60 567.91Z" fill="#fff" stroke="#fff" stroke-width="0.3"/>
<path d="M380.16 164.23L383.40 166.11L-316.60 567.91L-319.84 566.03Z" fill="#fff" stroke="#fff" stroke-width="0.3"/>
<path d="M379.51 164.20L380.16 164.23L-319.84 566.03L-320.49 566.00Z" fill="#fff" stroke="#fff" stroke-width="0.3"/>
<path d="M379.51 164.20l-700 401.80" stroke="#1a1a1a" stroke-width="1.55" fill="none"/>
<path d="M379.76 173.18L387.23 177.40L-312.77 579.20L-320.24 574.98Z" fill="#fff" stroke="#fff" stroke-width="0.3"/>
<path d="M379.76 173.18l-700 401.80" stroke="#1a1a1a" stroke-width="1.55" fill="none"/>
<path d="M337.96 92.29L337.89 128.80L-362.11 530.60L-362.04 494.09Z" fill="#fff" stroke="#fff" stroke-width="0.3"/>
<path d="M337.96 92.29l-700 401.80" stroke="#1a1a1a" stroke-width="1.55" fill="none"/>
<path d="M348.30 127.20L349.28 127.65L-350.72 529.45L-351.70 529.00Z" fill="#fff" stroke="#fff" stroke-width="0.3"/>
<path d="M348.30 127.20l-700 401.80M349.28 127.65l-700 401.80" stroke="#1a1a1a" stroke-width="1.55" fill="none"/>
<path d="M375.87 155.30L375.87 193.63L-324.13 595.43L-324.13 557.10Z" fill="#fff" stroke="#fff" stroke-width="0.3"/>
<path d="M375.87 193.63l-700 401.80" stroke="#1a1a1a" stroke-width="1.55" fill="none"/>
<path d="M344.04 136.56L344.79 137.99L-355.21 539.79L-355.96 538.36Z" fill="#fff" stroke="#fff" stroke-width="0.3"/>
<path d="M342.98 135.44L344.04 136.56L-355.96 538.36L-357.02 537.24Z" fill="#fff" stroke="#fff" stroke-width="0.3"/>
<path d="M341.65 134.73L342.98 135.44L-357.02 537.24L-358.35 536.53Z" fill="#fff" stroke="#fff" stroke-width="0.3"/>
<path d="M344.79 137.99L344.91 139.71L-355.09 541.51L-355.21 539.79Z" fill="#fff" stroke="#fff" stroke-width="0.3"/>
<path d="M338.63 130.70L340.35 132.31L-359.65 534.11L-361.37 532.50Z" fill="#fff" stroke="#fff" stroke-width="0.3"/>
<path d="M338.63 130.70l-700 401.80M340.35 132.31l-700 401.80" stroke="#1a1a1a" stroke-width="1.55" fill="none"/>
<path d="M337.89 128.80L338.63 130.70L-361.37 532.50L-362.11 530.60Z" fill="#fff" stroke="#fff" stroke-width="0.3"/>
<path d="M338.63 130.70l-700 401.80" stroke="#1a1a1a" stroke-width="1.55" fill="none"/>
<path d="M340.52 134.77L341.65 134.73L-358.35 536.53L-359.48 536.57Z" fill="#fff" stroke="#fff" stroke-width="0.3"/>
<path d="M340.52 134.77l-700 401.80" stroke="#1a1a1a" stroke-width="1.55" fill="none"/>
<path d="M344.91 139.71L344.06 140.54L-355.94 542.34L-355.09 541.51Z" fill="#fff" stroke="#fff" stroke-width="0.3"/>
<path d="M339.41 132.68L339.75 134.02L-360.25 535.82L-360.59 534.48Z" fill="#fff" stroke="#fff" stroke-width="0.3"/>
<path d="M339.41 132.68l-700 401.80M339.75 134.02l-700 401.80" stroke="#1a1a1a" stroke-width="1.55" fill="none"/>
<path d="M339.75 134.02L340.52 134.77L-359.48 536.57L-360.25 535.82Z" fill="#fff" stroke="#fff" stroke-width="0.3"/>
<path d="M339.75 134.02l-700 401.80M340.52 134.77l-700 401.80" stroke="#1a1a1a" stroke-width="1.55" fill="none"/>
<path d="M344.42 143.45L345.07 144.16L-354.93 545.96L-355.58 545.25Z" fill="#fff" stroke="#fff" stroke-width="0.3"/>
<path d="M345.07 144.16l-700 401.80" stroke="#1a1a1a" stroke-width="1.55" fill="none"/>
<path d="M341.18 141.55L344.42 143.45L-355.58 545.25L-358.82 543.35Z" fill="#fff" stroke="#fff" stroke-width="0.3"/>
<path d="M340.00 138.52L339.78 139.10L-360.22 540.90L-360.00 540.32Z" fill="#fff" stroke="#fff" stroke-width="0.3"/>
<path d="M340.00 138.52l-700 401.80M339.78 139.10l-700 401.80" stroke="#1a1a1a" stroke-width="1.55" fill="none"/>
<path d="M339.78 139.10L340.21 140.34L-359.79 542.14L-360.22 540.90Z" fill="#fff" stroke="#fff" stroke-width="0.3"/>
<path d="M339.78 139.10l-700 401.80" stroke="#1a1a1a" stroke-width="1.55" fill="none"/>
<path d="M345.07 144.16L344.97 149.92L-355.03 551.72L-354.93 545.96Z" fill="#fff" stroke="#fff" stroke-width="0.3"/>
<path d="M345.07 144.16l-700 401.80M344.97 149.92l-700 401.80" stroke="#1a1a1a" stroke-width="1.55" fill="none"/>
<path d="M340.21 140.34L341.18 141.55L-358.82 543.35L-359.79 542.14Z" fill="#fff" stroke="#fff" stroke-width="0.3"/>
<path d="M375.87 193.63L377.08 196.22L-322.92 598.02L-324.13 595.43Z" fill="#fff" stroke="#fff" stroke-width="0.3"/>
<path d="M375.87 193.63l-700 401.80M377.08 196.22l-700 401.80" stroke="#1a1a1a" stroke-width="1.55" fill="none"/>
<path d="M377.08 196.22L375.87 197.40L-324.13 599.20L-322.92 598.02Z" fill="#fff" stroke="#fff" stroke-width="0.3"/>
<path d="M377.08 196.22l-700 401.80M375.87 197.40l-700 401.80" stroke="#1a1a1a" stroke-width="1.55" fill="none"/>
<path d="M344.89 152.94L345.20 153.88L-354.80 555.68L-355.11 554.74Z" fill="#fff" stroke="#fff" stroke-width="0.3"/>
<path d="M344.89 152.94l-700 401.80" stroke="#1a1a1a" stroke-width="1.55" fill="none"/>
<path d="M375.87 197.40L375.88 200.77L-324.12 602.57L-324.13 599.20Z" fill="#fff" stroke="#fff" stroke-width="0.3"/>
<path d="M375.87 197.40l-700 401.80" stroke="#1a1a1a" stroke-width="1.55" fill="none"/>
<path d="M376.26 201.72L378.67 203.25L-321.33 605.05L-323.74 603.52Z" fill="#fff" stroke="#fff" stroke-width="0.3"/>
<path d="M376.26 201.72l-700 401.80M378.67 203.25l-700 401.80" stroke="#1a1a1a" stroke-width="1.55" fill="none"/>
<path d="M375.88 200.77L376.26 201.72L-323.74 603.52L-324.12 602.57Z" fill="#fff" stroke="#fff" stroke-width="0.3"/>
<path d="M376.26 201.72l-700 401.80" stroke="#1a1a1a" stroke-width="1.55" fill="none"/>
<path d="M337.35 148.39L344.89 152.94L-355.11 554.74L-362.65 550.19Z" fill="#fff" stroke="#fff" stroke-width="0.3"/>
<path d="M344.89 152.94l-700 401.80" stroke="#1a1a1a" stroke-width="1.55" fill="none"/>
<path d="M345.20 153.88L345.20 182.77L-354.80 584.57L-354.80 555.68Z" fill="#fff" stroke="#fff" stroke-width="0.3"/>
<path d="M297.66 125.31L337.35 148.39L-362.65 550.19L-402.34 527.11Z" fill="#353535" stroke="#353535" stroke-width="0.3"/>
<path d="M297.66 125.31l-700 401.80M337.35 148.39l-700 401.80" stroke="#1a1a1a" stroke-width="1.55" fill="none"/>
<path d="M345.99 184.27L348.17 185.46L-351.83 587.26L-354.01 586.07Z" fill="#fff" stroke="#fff" stroke-width="0.3"/>
<path d="M345.99 184.27l-700 401.80M348.17 185.46l-700 401.80" stroke="#1a1a1a" stroke-width="1.55" fill="none"/>
<path d="M345.20 182.77L345.42 183.61L-354.58 585.41L-354.80 584.57Z" fill="#fff" stroke="#fff" stroke-width="0.3"/>
<path d="M345.42 183.61l-700 401.80" stroke="#1a1a1a" stroke-width="1.55" fill="none"/>
<path d="M345.42 183.61L345.99 184.27L-354.01 586.07L-354.58 585.41Z" fill="#fff" stroke="#fff" stroke-width="0.3"/>
<path d="M345.42 183.61l-700 401.80M345.99 184.27l-700 401.80" stroke="#1a1a1a" stroke-width="1.55" fill="none"/>
<path d="M297.65 122.70L297.66 125.31L-402.34 527.11L-402.35 524.50Z" fill="#fff" stroke="#fff" stroke-width="0.3"/>
<path d="M297.65 122.70l-700 401.80M297.66 125.31l-700 401.80" stroke="#1a1a1a" stroke-width="1.55" fill="none"/>
<path d="M362.29 99.24L350.35 92.14L349.99 91.21L349.99 85.31L352.74 86.76L352.99 85.14L352.32 84.21L348.03 81.77L347.41 82.22L347.20 89.98L346.51 90.02L343.31 88.57L342.78 89.28L342.52 93.30L341.81 93.30L338.96 91.81L337.96 92.29L337.89 128.80L338.63 130.70L340.35 132.31L339.41 132.68L339.75 134.02L340.52 134.77L341.65 134.73L342.98 135.44L344.04 136.56L344.79 137.99L344.91 139.71L344.06 140.54L342.43 140.18L340.56 138.50L340.00 138.52L339.78 139.10L340.21 140.34L341.18 141.55L344.42 143.45L345.07 144.16L344.97 149.92L297.65 122.70L297.66 125.31L337.35 148.39L344.89 152.94L345.20 153.88L345.20 182.77L345.42 183.61L345.99 184.27L348.17 185.46L348.71 184.80L348.71 181.60L347.50 179.01L348.71 177.83L348.71 139.50L345.96 133.98L348.45 131.73L348.30 127.20L349.28 127.65L349.28 120.32L348.30 119.63L348.30 114.66L349.28 115.20L349.28 107.87L348.32 107.26L348.29 105.25L346.42 104.10L346.42 98.11L347.96 98.84L348.29 98.58L348.22 97.29L347.49 96.29L377.09 113.51L376.33 113.71L376.33 115.05L378.16 116.58L378.14 122.61L376.29 121.53L376.25 123.50L375.30 123.00L375.30 130.33L376.27 130.93L376.27 135.98L375.30 135.45L375.30 142.78L376.27 143.47L376.13 147.84L378.62 152.97L375.87 155.30L375.87 193.63L377.08 196.22L375.87 197.40L375.88 200.77L376.26 201.72L378.67 203.25L379.36 202.81L379.38 173.75L379.76 173.18L387.23 177.40L426.92 200.49L426.90 197.81L379.61 170.07L379.51 164.20L380.16 164.23L383.40 166.11L384.37 166.02L384.80 165.29L384.58 164.45L384.02 163.78L382.15 163.28L380.52 161.75L379.67 159.93L379.79 158.35L380.54 157.79L381.59 157.89L382.93 158.73L384.05 160.08L384.83 160.24L385.17 159.30L384.23 157.82L385.95 158.21L386.69 157.18L386.61 120.58L385.62 118.94L382.77 117.12L382.06 116.30L381.80 111.98L381.27 110.65L378.07 108.38L377.38 107.54L377.17 99.53L376.55 98.35L372.26 95.81L371.59 95.96L371.84 97.87L374.59 99.62L374.59 105.52L374.23 106.03Z" fill="#fff" stroke="none"/>
<g transform="matrix(0.337,0.196,0,0.337,263.38,-127.9)"><g fill="none" stroke="#1c1c1c" stroke-linecap="round" stroke-linejoin="round"><path d="M 293.5 503.3 L 260 503.3 Q 257 503.3 257 500.5 L 257 483.2 L 263.5 483.2 Q 266 483.2 266 480.7 L 266 478.4 Q 266 475.9 263.5 475.9 L 252.5 475.9 Q 249.3 475.9 249.3 479.1 L 249.3 499.5 Q 249.3 503.3 245.5 503.3 L 241 503.3 Q 235.5 503.3 235.5 508.8 L 235.5 517.3 Q 235.5 521.1 231.7 521.1 L 227 521.1 Q 221 521.1 221 527.1 L 221 631.5 C 221 636.5 223.5 638.8 228.5 639.3 C 224.5 640.5 224.2 645.8 229 646.3 A 8.4 8.4 0 1 1 229.6 657.2 C 224.5 657.8 226 666 235 666 L 240 665.3 Q 242.8 665.3 242.8 668 L 242.8 681.5 Q 242.8 684.3 240 684.3 L 104 684.3 Q 101.7 684.3 101.7 686.6 L 101.7 689.9 Q 101.7 692.2 104 692.2 Q 106.85 694.00 109.70 692.20 Q 112.55 694.00 115.40 692.20 Q 118.25 694.00 121.10 692.20 Q 123.95 694.00 126.80 692.20 Q 129.65 694.00 132.50 692.20 Q 135.35 694.00 138.20 692.20 Q 141.05 694.00 143.90 692.20 Q 146.75 694.00 149.60 692.20 Q 152.45 694.00 155.30 692.20 Q 158.15 694.00 161.00 692.20 Q 163.85 694.00 166.70 692.20 Q 169.55 694.00 172.40 692.20 Q 175.25 694.00 178.10 692.20 Q 180.95 694.00 183.80 692.20 Q 186.65 694.00 189.50 692.20 Q 192.35 694.00 195.20 692.20 Q 198.05 694.00 200.90 692.20 Q 203.75 694.00 206.60 692.20 Q 209.45 694.00 212.30 692.20 Q 215.15 694.00 218.00 692.20 L 219.50 692.20 L 240 692.2 Q 242.8 692.2 242.8 695 L 242.8 780.5 Q 242.8 783.8 246 783.8 L 250 783.8 Q 253.2 783.8 253.2 780.5 L 253.2 771 Q 249.6 767 249.6 765.5 Q 249.6 764 253.2 760 L 253.2 646 L 245 634.5 L 252.5 623.5 Q 254 619.6 250.5 619.6 L 243 619.6 Q 240.8 619.6 240.8 622 L 240.8 628" stroke-width="4.8"/>
<path d="M 246.7 520.3 L 250 520.6 Q 252 521 252 523 L 252 525 Q 252 527 250 527 L 246.4 527.2 L 246.4 538.5 Q 246.4 540.8 244 540.8 L 239.7 540.8" stroke-width="4.8"/>
<path d="M 293.5 515 L 249.5 515 Q 247 515 247 517.5 Q 247 520.1 249.5 520.1 L 293.5 520.1" stroke-width="4.8"/>
<path d="M 293.5 514.3 L 249 514.3" stroke-width="7"/>
<path d="M 239.7 540.8 L 239.7 533 L 230.3 533 L 230.3 628.7 L 239.4 628.7 L 239.4 616" stroke-width="7" stroke-linejoin="miter"/>
<path d="M 239.4 616 L 252 616 L 252 610.2 M 252 588.2 L 252 573.2 M 252 551.2 L 252 545.3 L 239.7 545.3 L 239.7 540.8" stroke-width="3.84"/>
<rect x="230.3" y="554.7" width="11.2" height="14.7" fill="#fff" stroke-width="4.8"/>
<rect x="230.3" y="592.1" width="11.2" height="14.3" fill="#fff" stroke-width="4.8"/>
<rect x="248.6" y="551.2" width="6.3" height="22" rx="0.8" fill="#fff" stroke="#1c1c1c" stroke-width="4.8"/>
<rect x="248.6" y="588.2" width="6.3" height="22" rx="0.8" fill="#fff" stroke="#1c1c1c" stroke-width="4.8"/><g transform="translate(587,0) scale(-1,1)"><path d="M 293.5 503.3 L 260 503.3 Q 257 503.3 257 500.5 L 257 483.2 L 263.5 483.2 Q 266 483.2 266 480.7 L 266 478.4 Q 266 475.9 263.5 475.9 L 252.5 475.9 Q 249.3 475.9 249.3 479.1 L 249.3 499.5 Q 249.3 503.3 245.5 503.3 L 241 503.3 Q 235.5 503.3 235.5 508.8 L 235.5 517.3 Q 235.5 521.1 231.7 521.1 L 227 521.1 Q 221 521.1 221 527.1 L 221 631.5 C 221 636.5 223.5 638.8 228.5 639.3 C 224.5 640.5 224.2 645.8 229 646.3 A 8.4 8.4 0 1 1 229.6 657.2 C 224.5 657.8 226 666 235 666 L 240 665.3 Q 242.8 665.3 242.8 668 L 242.8 681.5 Q 242.8 684.3 240 684.3 L 104 684.3 Q 101.7 684.3 101.7 686.6 L 101.7 689.9 Q 101.7 692.2 104 692.2 Q 106.85 694.00 109.70 692.20 Q 112.55 694.00 115.40 692.20 Q 118.25 694.00 121.10 692.20 Q 123.95 694.00 126.80 692.20 Q 129.65 694.00 132.50 692.20 Q 135.35 694.00 138.20 692.20 Q 141.05 694.00 143.90 692.20 Q 146.75 694.00 149.60 692.20 Q 152.45 694.00 155.30 692.20 Q 158.15 694.00 161.00 692.20 Q 163.85 694.00 166.70 692.20 Q 169.55 694.00 172.40 692.20 Q 175.25 694.00 178.10 692.20 Q 180.95 694.00 183.80 692.20 Q 186.65 694.00 189.50 692.20 Q 192.35 694.00 195.20 692.20 Q 198.05 694.00 200.90 692.20 Q 203.75 694.00 206.60 692.20 Q 209.45 694.00 212.30 692.20 Q 215.15 694.00 218.00 692.20 L 219.50 692.20 L 240 692.2 Q 242.8 692.2 242.8 695 L 242.8 780.5 Q 242.8 783.8 246 783.8 L 250 783.8 Q 253.2 783.8 253.2 780.5 L 253.2 771 Q 249.6 767 249.6 765.5 Q 249.6 764 253.2 760 L 253.2 646 L 245 634.5 L 252.5 623.5 Q 254 619.6 250.5 619.6 L 243 619.6 Q 240.8 619.6 240.8 622 L 240.8 628" stroke-width="4.8"/>
<path d="M 246.7 520.3 L 250 520.6 Q 252 521 252 523 L 252 525 Q 252 527 250 527 L 246.4 527.2 L 246.4 538.5 Q 246.4 540.8 244 540.8 L 239.7 540.8" stroke-width="4.8"/>
<path d="M 293.5 515 L 249.5 515 Q 247 515 247 517.5 Q 247 520.1 249.5 520.1 L 293.5 520.1" stroke-width="4.8"/>
<path d="M 293.5 514.3 L 249 514.3" stroke-width="7"/>
<path d="M 239.7 540.8 L 239.7 533 L 230.3 533 L 230.3 628.7 L 239.4 628.7 L 239.4 616" stroke-width="7" stroke-linejoin="miter"/>
<path d="M 239.4 616 L 252 616 L 252 610.2 M 252 588.2 L 252 573.2 M 252 551.2 L 252 545.3 L 239.7 545.3 L 239.7 540.8" stroke-width="3.84"/>
<rect x="230.3" y="554.7" width="11.2" height="14.7" fill="#fff" stroke-width="4.8"/>
<rect x="230.3" y="592.1" width="11.2" height="14.3" fill="#fff" stroke-width="4.8"/>
<rect x="248.6" y="551.2" width="6.3" height="22" rx="0.8" fill="#fff" stroke="#1c1c1c" stroke-width="4.8"/>
<rect x="248.6" y="588.2" width="6.3" height="22" rx="0.8" fill="#fff" stroke="#1c1c1c" stroke-width="4.8"/></g></g></g></g>
</svg></body></html>
